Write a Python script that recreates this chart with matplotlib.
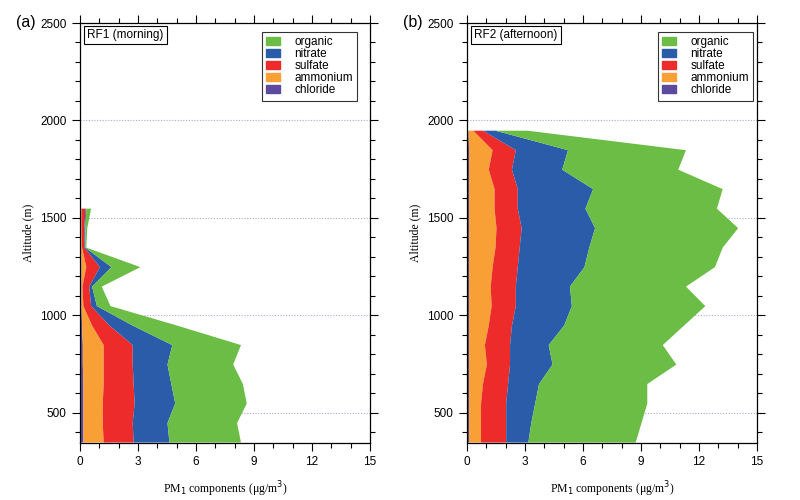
import numpy as np
import matplotlib.pyplot as plt
from matplotlib.ticker import MultipleLocator
from matplotlib.patches import Patch

components = ["chloride", "ammonium", "sulfate", "nitrate", "organic"]
colors = ["#5b4a9e", "#f8a035", "#ee2b2b", "#2b5ca9", "#6cbd45"]

# RF1 (morning)
alt1 = [350, 450, 550, 650, 750, 850, 950, 1050, 1150, 1250, 1350, 1450, 1550]
chl1 = [0.15, 0.15, 0.15, 0.15, 0.12, 0.12, 0.08, 0.05, 0.05, 0.05, 0.03, 0.03, 0.03]
amm1 = [1.05, 1.00, 1.00, 1.05, 1.08, 1.08, 0.52, 0.10, 0.05, 0.25, 0.05, 0.03, 0.03]
sul1 = [1.55, 1.55, 1.65, 1.55, 1.50, 1.50, 0.90, 0.40, 0.35, 0.70, 0.12, 0.14, 0.20]
nit1 = [1.85, 1.80, 2.10, 1.95, 1.80, 2.05, 1.20, 0.30, 0.15, 0.60, 0.05, 0.05, 0.04]
org1 = [3.70, 3.60, 3.70, 3.70, 3.40, 3.55, 2.30, 0.70, 0.50, 1.50, 0.05, 0.10, 0.25]

# RF2 (afternoon)
alt2 = [350, 450, 550, 650, 750, 850, 950, 1050, 1150, 1250, 1350, 1450, 1550,
        1650, 1750, 1850, 1950]
chl2 = [0.08] * 16 + [0.05]
amm2 = [0.62, 0.62, 0.62, 0.72, 0.92, 0.82, 1.02, 1.17, 1.12, 1.22, 1.37, 1.42,
        1.32, 1.32, 1.02, 1.22, 0.25]
sul2 = [1.30, 1.30, 1.30, 1.30, 1.20, 1.30, 1.20, 1.25, 1.30, 1.30, 1.25, 1.30,
        1.20, 1.20, 1.20, 1.20, 0.50]
nit2 = [1.15, 1.30, 1.50, 1.60, 2.20, 2.00, 2.70, 2.90, 2.80, 3.45, 3.60, 3.80,
        3.50, 3.90, 2.60, 2.70, 0.65]
org2 = [5.55, 5.70, 5.80, 5.60, 6.40, 5.90, 6.20, 6.90, 6.00, 6.75, 6.90, 7.40,
        6.80, 6.70, 6.00, 6.10, 1.65]

panels = [
    ("(a)", "RF1 (morning)", alt1, [chl1, amm1, sul1, nit1, org1], 0.955),
    ("(b)", "RF2 (afternoon)", alt2, [chl2, amm2, sul2, nit2, org2], 0.987),
]

fig = plt.figure(figsize=(8, 5), dpi=100)
lefts = [0.1, 0.58375]

for left, (tag, name, alt, series, leg_x) in zip(lefts, panels):
    ax = fig.add_axes([left, 0.114, 0.3625, 0.84])
    alt = np.array(alt)
    base = np.zeros(len(alt))
    for vals, c in zip(series, colors):
        top = base + np.array(vals)
        ax.fill_betweenx(alt, base, top, color=c, lw=0)
        base = top

    ax.set_xlim(0, 15)
    ax.set_ylim(345, 2500)
    ax.xaxis.set_major_locator(MultipleLocator(3))
    ax.xaxis.set_minor_locator(MultipleLocator(1))
    ax.yaxis.set_major_locator(MultipleLocator(500))
    ax.yaxis.set_minor_locator(MultipleLocator(100))
    ax.tick_params(which="both", direction="out", top=True, right=True,
                   labelsize=8.5, width=0.8)
    ax.tick_params(which="major", length=6)
    ax.tick_params(which="minor", length=3.5)
    for lab in ax.get_xticklabels() + ax.get_yticklabels():
        lab.set_family("Liberation Sans")
    for sp in ax.spines.values():
        sp.set_linewidth(0.9)

    for y in [500, 1000, 1500, 2000]:
        ax.axhline(y, color="#a8a8e0", lw=0.8, ls=(0, (1, 1.5)), zorder=0.5)

    ax.set_xlabel("PM$_1$ components (μg/m$^3$)", family="Liberation Serif",
                  fontsize=8.5, labelpad=8)
    ax.set_ylabel("Altitude (m)", family="Liberation Serif", fontsize=8.5,
                  labelpad=4)

    ax.text(0.025, 0.985, name, transform=ax.transAxes, ha="left", va="top",
            fontsize=8.5, family="Liberation Sans",
            bbox=dict(boxstyle="square,pad=0.25", fc="white", ec="black", lw=0.8))
    ax.text(-0.22, 1.0, tag, transform=ax.transAxes, ha="left", va="center",
            fontsize=11.5, family="Liberation Sans")

    handles = [Patch(color=c, label=n) for n, c in zip(components[::-1], colors[::-1])]
    leg = ax.legend(handles=handles, loc="upper right", bbox_to_anchor=(leg_x, 0.978),
                    borderaxespad=0, frameon=True, fancybox=False, edgecolor="black",
                    handlelength=1.2, handleheight=0.7, handletextpad=1.2,
                    labelspacing=0.0, borderpad=0.35,
                    prop={"family": "Liberation Sans", "size": 8.5})
    leg.get_frame().set_linewidth(0.8)

fig.savefig("out.png", dpi=100)
